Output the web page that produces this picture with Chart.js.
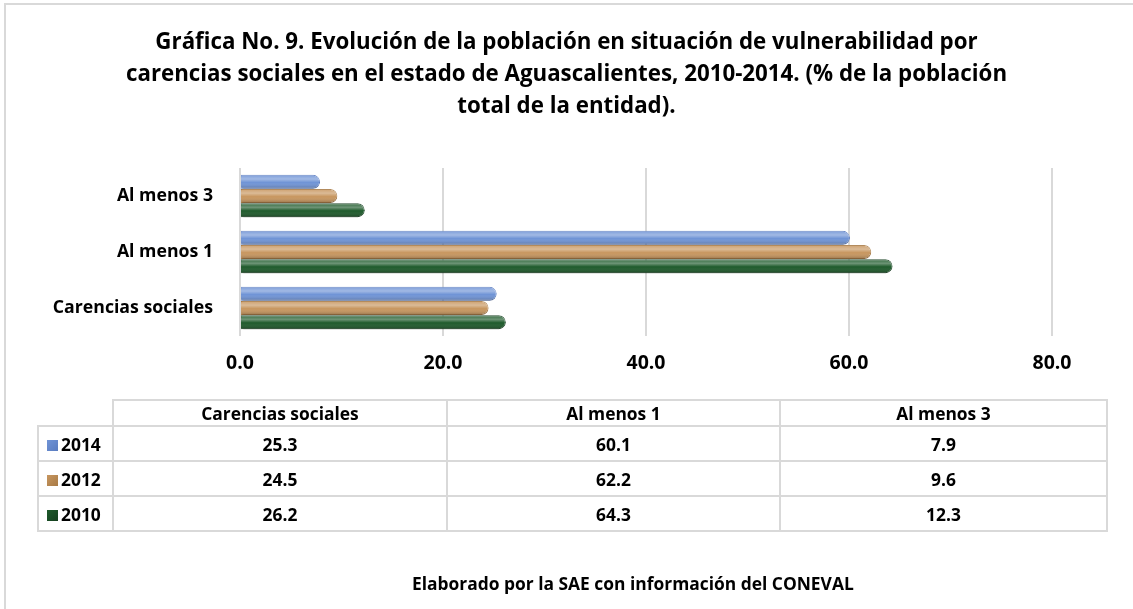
<!DOCTYPE html>
<html lang="es">
<head>
<meta charset="utf-8">
<title>Gráfica No. 9</title>
<script src="https://cdn.jsdelivr.net/npm/chart.js@4.4.0/dist/chart.umd.min.js"></script>
<style>
    body { margin: 0; background: #fff; font-family: 'Open Sans', sans-serif; }
    #marco { position: absolute; left: 4px; top: 3px; width: 1140px; height: 620px; border: 2px solid #d9d9d9; }
    #lienzo { position: absolute; left: 0; top: 0; }
    #tabla { position: absolute; left: 37px; top: 399px; width: 1071px; border-collapse: collapse; table-layout: fixed; font-weight: bold; color: #000; }
    #tabla td, #tabla th { border: 2px solid #d9d9d9; height: 33px; padding: 0; text-align: center; font-weight: bold; }
    #tabla th { height: 23px; }
    #tabla th.vacio { border-top: none; border-left: none; }
    #tabla td.serie { text-align: left; padding-left: 8px; }
    .muestra { display: inline-block; width: 11px; height: 11px; margin-right: 3px; vertical-align: 0px; }
    #pie { position: absolute; left: 412px; top: 571px; white-space: nowrap; font-weight: bold; color: #000; }
</style>
</head>
<body>
<div id="marco"></div>
<canvas id="lienzo" width="1133" height="609"></canvas>
<table id="tabla"></table>
<div id="pie">Elaborado por la SAE con información del CONEVAL</div>
<script>
const categorias = ['Carencias sociales', 'Al menos 1', 'Al menos 3'];
const anios = ['2014', '2012', '2010'];
const valores2014 = [25.3, 60.1, 7.9];
const valores2012 = [24.5, 62.2, 9.6];
const valores2010 = [26.2, 64.3, 12.3];
const ticksX = [0, 20, 40, 60, 80];
const titulo = [
    'Gráfica No. 9. Evolución de la población en situación de vulnerabilidad por',
    'carencias sociales en el estado de Aguascalientes, 2010-2014. (% de la población',
    'total de la entidad).'
];
const pie = 'Elaborado por la SAE con información del CONEVAL';

const colores = ['#7094d6', '#c7965f', '#1e5a2b'];
const bordes = ['#5a7cc0', '#a87a45', '#143f1e'];
const series = [valores2014, valores2012, valores2010];

// tamaño de letra para que un texto ocupe el ancho medido en la imagen
function tamanoFuente(texto, ancho) {
    const c = document.createElement('canvas').getContext('2d');
    c.font = 'bold 100px "Open Sans"';
    return Math.round(1000 * ancho / c.measureText(texto).width) / 10;
}

const fTitulo = tamanoFuente(titulo[0], 822);
const fEtiqueta = tamanoFuente('Carencias sociales', 160);
const fTick = tamanoFuente('20.0', 39);
const fTabla = tamanoFuente('Carencias sociales', 158);
const fPie = tamanoFuente(pie, 443);

function armarTabla() {
    const tabla = document.getElementById('tabla');
    tabla.style.fontSize = fTabla + 'px';
    document.getElementById('pie').style.fontSize = fPie + 'px';
    let html = '<colgroup><col style="width:75px"><col style="width:334px"><col style="width:333px"><col></colgroup>';
    html += '<tr><th class="vacio"></th>';
    categorias.forEach(c => { html += `<th>${c}</th>`; });
    html += '</tr>';
    anios.forEach((anio, i) => {
        html += `<tr><td class="serie"><span class="muestra" style="background: linear-gradient(135deg, ${colores[i]}, ${bordes[i]})"></span>${anio}</td>`;
        series[i].forEach(v => { html += `<td>${v.toFixed(1)}</td>`; });
        html += '</tr>';
    });
    tabla.innerHTML = html;
}

// brillo tipo cilindro sobre cada barra
const brillo = {
    id: 'brillo',
    afterDatasetsDraw(chart) {
        const ctx = chart.ctx;
        chart.data.datasets.forEach((d, i) => {
            chart.getDatasetMeta(i).data.forEach(barra => {
                const top = barra.y - barra.height / 2;
                const g = ctx.createLinearGradient(0, top, 0, top + barra.height);
                g.addColorStop(0, 'rgba(255,255,255,0.10)');
                g.addColorStop(0.3, 'rgba(255,255,255,0.35)');
                g.addColorStop(0.55, 'rgba(255,255,255,0.0)');
                g.addColorStop(1, 'rgba(0,0,0,0.25)');
                ctx.save();
                ctx.fillStyle = g;
                ctx.beginPath();
                ctx.roundRect(barra.base, top, barra.x - barra.base, barra.height, [3, barra.height / 2, barra.height / 2, 3]);
                ctx.fill();
                ctx.restore();
            });
        });
    }
};

function gerarGrafica() {
    const ctx = document.getElementById('lienzo').getContext('2d');
    new Chart(ctx, {
        type: 'bar',
        data: {
            labels: categorias,
            datasets: anios.map((anio, i) => ({
                label: anio,
                data: series[i],
                backgroundColor: colores[i],
                borderColor: bordes[i],
                borderWidth: 1,
                borderSkipped: 'start',
                borderRadius: 7,
                categoryPercentage: 0.76,
                barPercentage: 0.98
            }))
        },
        options: {
            indexAxis: 'y',
            responsive: false,
            animation: false,
            layout: { padding: { left: 0, right: 0, top: 0, bottom: 228 } },
            plugins: {
                legend: { display: false },
                tooltip: { enabled: false },
                title: {
                    display: true,
                    text: titulo,
                    color: '#000',
                    font: { family: 'Open Sans', size: fTitulo, weight: 'bold', lineHeight: 32 / fTitulo },
                    padding: { top: 27, bottom: 45 }
                }
            },
            scales: {
                x: {
                    min: 0,
                    max: 80,
                    afterBuildTicks: s => { s.ticks = ticksX.map(v => ({ value: v })); },
                    afterFit: s => { s.height = 45; },
                    grid: { color: '#d9d9d9', lineWidth: 2, drawTicks: false },
                    border: { display: false },
                    ticks: {
                        padding: 16,
                        color: '#000',
                        font: { family: 'Open Sans', size: fTick, weight: 'bold' },
                        callback: v => v.toFixed(1)
                    }
                },
                y: {
                    reverse: true,
                    afterFit: s => { s.width = 240; },
                    grid: { display: false },
                    border: { display: false },
                    ticks: {
                        padding: 19,
                        color: '#000',
                        font: { family: 'Open Sans', size: fEtiqueta, weight: 'bold' }
                    }
                },
                // eje vacío a la derecha, solo reserva el margen
                margen: {
                    axis: 'y',
                    type: 'linear',
                    position: 'right',
                    afterFit: s => { s.width = 81; },
                    grid: { display: false },
                    border: { display: false },
                    ticks: { display: false }
                }
            }
        },
        plugins: [brillo]
    });
}

armarTabla();
gerarGrafica();
</script>
</body>
</html>
